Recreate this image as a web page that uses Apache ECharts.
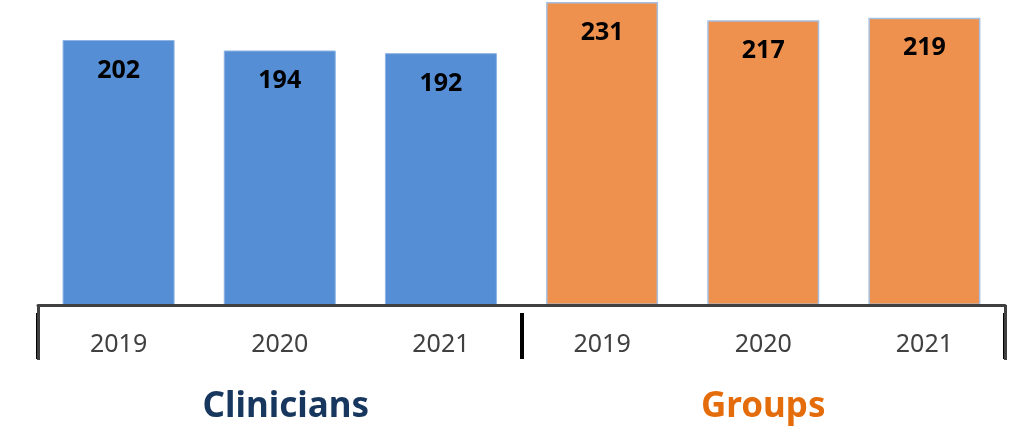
<!DOCTYPE html>
<html>
<head>
<meta charset="utf-8">
<script src="https://cdn.jsdelivr.net/npm/echarts@6/dist/echarts.min.js"></script>
<style>
  html, body { margin: 0; padding: 0; background: #ffffff; }
  #chart { width: 1014px; height: 445px; }
</style>
</head>
<body>
<div id="chart"></div>
<script>
const years = ['2019', '2020', '2021', '2019', '2020', '2021'];
const groups = ['Clinicians', 'Groups'];
const clinicians = [202, 194, 192, '-', '-', '-'];
const groupValues = ['-', '-', '-', 231, 217, 219];

const myChart = echarts.init(document.getElementById('chart'));

const label = {
  show: true,
  position: 'insideTop',
  distance: 18,
  color: '#000000',
  fontSize: 25,
  fontWeight: 'bold',
  fontFamily: 'Noto Sans',
};

const option = {
  backgroundColor: '#ffffff',
  animation: false,
  grid: { left: 38, right: 9, top: 0, bottom: 140, containLabel: false },
  xAxis: [
    {
      type: 'category',
      data: years,
      position: 'bottom',
      z: 3,
      axisLine: { show: true, lineStyle: { color: '#404040', width: 3 } },
      axisTick: {
        show: true,
        length: 55,
        interval: (index) => index === 0, // only the two ends
        lineStyle: { color: '#404040', width: 3 },
      },
      axisLabel: {
        color: '#404040',
        fontSize: 25,
        fontFamily: 'Noto Sans',
        margin: 27,
      },
    },
    {
      type: 'category',
      data: groups.map((g, i) => (i === 0 ? { value: g, textStyle: { padding: [0, 0, 0, 12] } } : g)),
      position: 'bottom',
      offset: 8,
      z: 1,
      axisLine: { show: false },
      axisTick: {
        show: true,
        length: 46,
        lineStyle: { color: '#000000', width: 4 },
      },
      axisLabel: {
        fontSize: 35,
        fontWeight: 'bold',
        fontFamily: 'Noto Sans',
        margin: 77,
        color: (value) => (value === 'Clinicians' ? '#17375E' : '#E46C0A'),
      },
    },
  ],
  yAxis: { type: 'value', min: 0, max: 232.5, show: false, splitLine: { show: false } },
  series: [
    {
      name: 'Clinicians',
      type: 'bar',
      xAxisIndex: 0,
      data: clinicians,
      barWidth: 112,
      barGap: '-100%',
      itemStyle: { color: '#558ED5', borderColor: '#8EB4E3', borderWidth: 1 },
      label,
    },
    {
      name: 'Groups',
      type: 'bar',
      xAxisIndex: 0,
      data: groupValues,
      barWidth: 112,
      barGap: '-100%',
      itemStyle: { color: '#EE914F', borderColor: '#A7BFDE', borderWidth: 1.5 },
      label,
    },
  ],
};

myChart.setOption(option);
</script>
</body>
</html>
